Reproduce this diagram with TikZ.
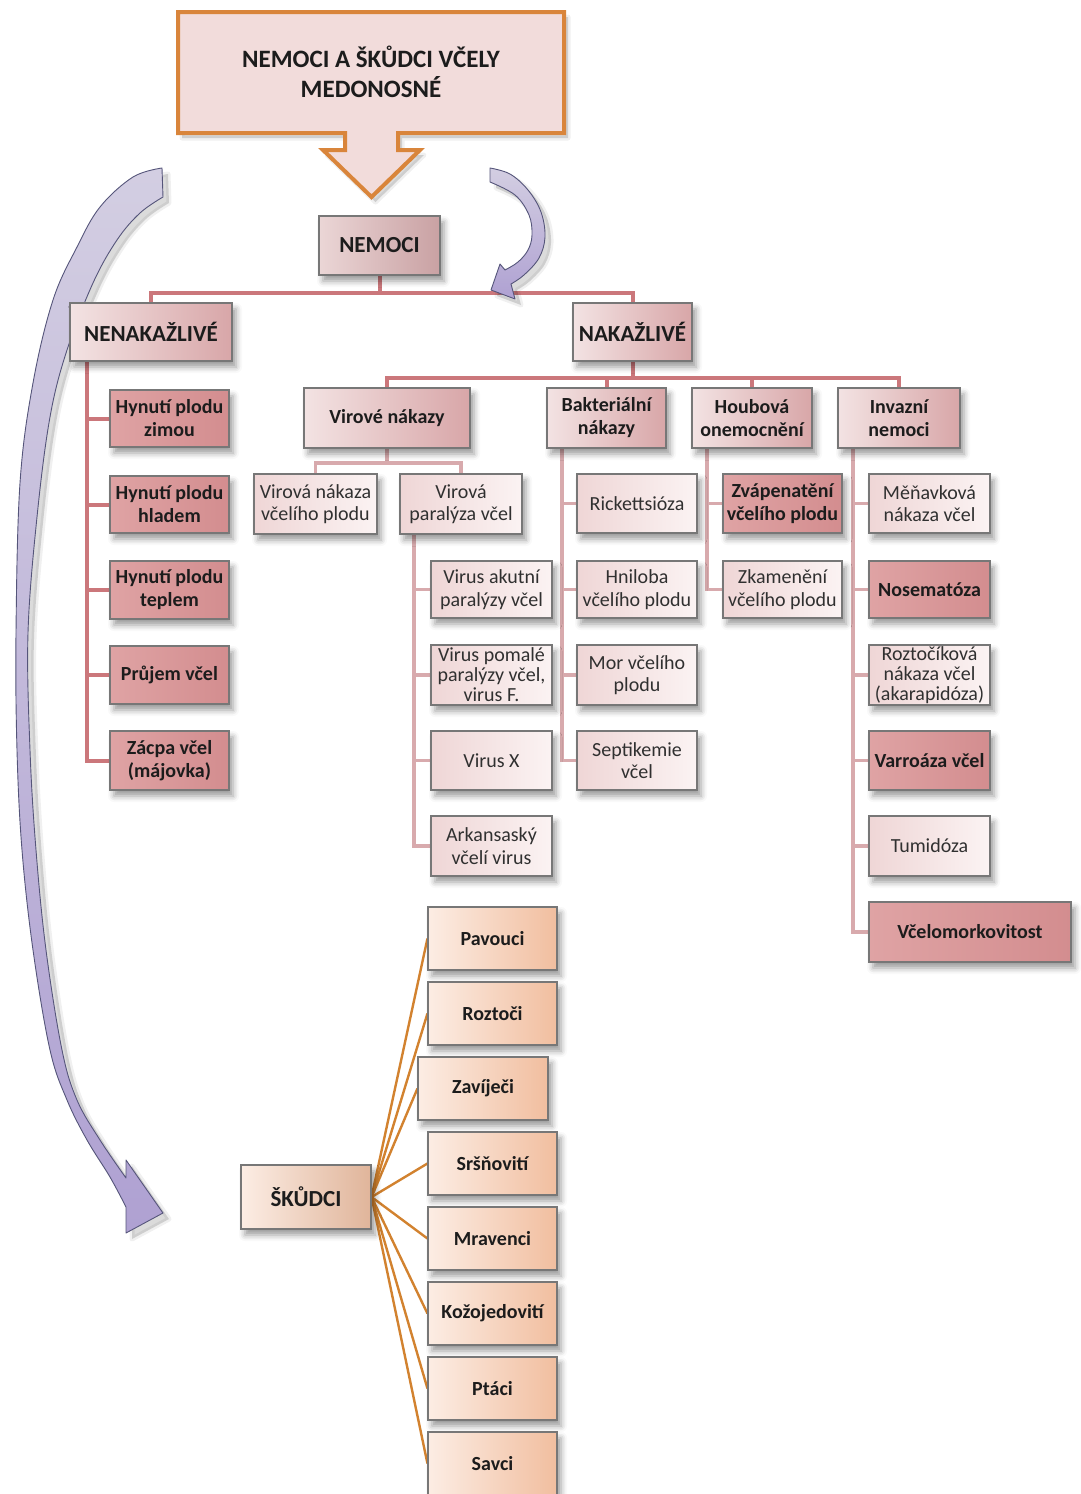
\documentclass[tikz,border=0pt]{standalone}
\usepackage{fontspec}
\setmainfont{Carlito}
\usetikzlibrary{shadows.blur}
\pgfdeclarelayer{back}
\pgfdeclarelayer{bg}
\pgfsetlayers{back,bg,main}
\definecolor{orangeB}{HTML}{D9853B}
\definecolor{titleF}{HTML}{F2DCDB}
\definecolor{grayB}{HTML}{777777}
\definecolor{midL}{HTML}{F3E3E3}
\definecolor{midR}{HTML}{D8A6A8}
\definecolor{nemL}{HTML}{EBD6D6}
\definecolor{nemR}{HTML}{C9A1A3}
\definecolor{liteL}{HTML}{EFD6D6}
\definecolor{liteR}{HTML}{FBF3F3}
\definecolor{darkL}{HTML}{DFA3A4}
\definecolor{darkR}{HTML}{D38D8F}
\definecolor{peachL}{HTML}{FCEDE4}
\definecolor{peachR}{HTML}{F1BE9F}
\definecolor{busC}{HTML}{CB777B}
\definecolor{bus2C}{HTML}{D8AAAD}
\definecolor{orL}{HTML}{D2822F}
\definecolor{purT}{HTML}{D3CEE2}
\definecolor{purB}{HTML}{AFA1D2}
\definecolor{purD}{HTML}{55557A}
\definecolor{txtD}{HTML}{1C1C1C}
\definecolor{txtL}{HTML}{303030}
\newcommand\myfb{\bfseries\fontsize{20}{23}\selectfont}
\newcommand\myfr{\fontsize{20}{22.5}\selectfont}
\newcommand\myfh{\bfseries\fontsize{23}{26}\selectfont}
\newcommand\bx[7]{\node[#6, minimum width={(#4)-(#2)}, minimum height={(#5)-(#3)}] (#1) at ({((#2)+(#4))/2},{((#3)+(#5))/2}) {#7};}
\newcommand\titlepath{(178,12) -- (564,12) -- (564,133) -- (398,133) -- (398,150) -- (420,150)
  -- (371.5,197) -- (323,150) -- (345,150) -- (345,133) -- (178,133) -- cycle}
\newcommand\leftarr{(162,168) -- (163,197)
  -- plot[smooth, tension=0.6] coordinates {(163,197) (140,213) (117,240) (93,283) (67,350) (50,417) (37,517) (28,633) (30,750) (36,850) (46,950) (62,1050) (77,1100) (100,1140) (126,1178)}
  -- (126,1160) -- (163,1213) -- (126,1233) -- (126,1207)
  -- plot[smooth, tension=0.6] coordinates {(126,1207) (110,1177) (87,1140) (67,1100) (50,1050) (33,950) (22,850) (17,750) (16,633) (20,483) (33,383) (53,300) (77,247) (100,207) (133,177) (162,168)}
  -- cycle}
\newcommand\rightarr{(490,168) -- (490,182)
  -- plot[smooth, tension=0.6] coordinates {(490,182) (515,195) (529,215) (532,235) (528,250) (518,262) (505,270)}
  -- (500,264) -- (491,290) -- (515,299) -- (511,284)
  -- plot[smooth, tension=0.6] coordinates {(511,284) (524,275) (539,258) (545,237) (541,212) (528,190) (510,174) (490,168)}
  -- cycle}
\tikzset{
  shadowspec/.style={blur shadow={shadow xshift=4pt, shadow yshift=-6pt, shadow blur radius=6pt, shadow opacity=40}},
  boxbase/.style={draw=grayB, line width=1.1pt, inner sep=1pt, align=center, shadowspec},
  boxhdr/.style={boxbase, left color=midL, right color=midR, text=txtD, font=\myfh},
  boxnem/.style={boxbase, left color=nemL, right color=nemR, text=txtD, font=\myfh},
  boxmid/.style={boxbase, left color=midL, right color=midR, text=txtD, font=\myfb},
  boxlite/.style={boxbase, left color=liteL, right color=liteR, text=txtL, font=\myfr},
  boxdark/.style={boxbase, left color=darkL, right color=darkR, text=txtD, font=\myfb},
  boxpeach/.style={boxbase, left color=peachL, right color=peachR, text=txtD, font=\myfb},
  boxpeachH/.style={boxbase, left color=peachL, right color=peachR!85!gray, text=txtD, font=\myfh},
  linebus/.style={draw=busC, line width=4pt},
  linebus2/.style={draw=bus2C, line width=3.5pt},
  lineor/.style={draw=orL, line width=2.4pt},
  purarrow/.style={draw=purD, line width=0.9pt, top color=purT, bottom color=purB, line join=round},
  softshadow/.style={fill=black, fill opacity=0.14, draw=black, draw opacity=0.06, line width=5pt, line join=round}
}
\begin{document}
\begin{tikzpicture}[x=1pt,y=-1pt]
\useasboundingbox (0,0) rectangle (1080,1494);
\begin{pgfonlayer}{back}
\fill[white] (0,0) rectangle (1080,1494);
\end{pgfonlayer}

% hidden primer for the shadow fading (covered by the title shape)
\node[shadowspec, fill=titleF, minimum width=8pt, minimum height=8pt, inner sep=0pt] (primer) at (371,72) {};

% title callout
\path[softshadow, shift={(4,5)}] \titlepath;
\path[draw=orangeB, line width=4pt, fill=titleF, line join=miter] \titlepath;
\node[align=center, font=\bfseries\fontsize{25}{30}\selectfont, text=txtD] (title) at (371,72) {NEMOCI A ŠKŮDCI VČELY\\MEDONOSNÉ};

% purple curved arrows
\path[softshadow, shift={(6,6)}] \leftarr;
\path[purarrow] \leftarr;
\path[softshadow, shift={(6,6)}] \rightarr;
\path[purarrow] \rightarr;

% boxes
\bx{nemoci}{319}{216}{440}{275}{boxnem}{NEMOCI}
\bx{nenak}{70}{303}{232}{361}{boxhdr}{NENAKAŽLIVÉ}
\bx{nak}{573}{303}{692}{361}{boxhdr}{NAKAŽLIVÉ}

\bx{h1}{110}{390}{229}{447}{boxdark}{Hynutí plodu\\zimou}
\bx{h2}{110}{476}{229}{533}{boxdark}{Hynutí plodu\\hladem}
\bx{h3}{110}{561}{229}{619}{boxdark}{Hynutí plodu\\teplem}
\bx{h4}{110}{646}{229}{704}{boxdark}{Průjem včel}
\bx{h5}{110}{731}{229}{790}{boxdark}{Zácpa včel\\(májovka)}

\bx{vir}{304}{388}{470}{448}{boxmid}{Virové nákazy}
\bx{bak}{547}{388}{666}{448}{boxmid}{Bakteriální\\nákazy}
\bx{hou}{692}{388}{812}{448}{boxmid}{Houbová\\onemocnění}
\bx{inv}{838}{388}{960}{448}{boxmid}{Invazní\\nemoci}

\bx{vnp}{254}{474}{377}{534}{boxlite}{Virová nákaza\\včelího plodu}
\bx{vpar}{400}{474}{522}{534}{boxlite}{Virová\\paralýza včel}
\bx{v1}{431}{561}{552}{618}{boxlite}{Virus akutní\\paralýzy včel}
\bx{v2}{431}{645}{552}{705}{boxlite, font=\fontsize{20}{20}\selectfont}{Virus pomalé\\paralýzy včel,\\virus F.}
\bx{v3}{431}{731}{552}{790}{boxlite}{Virus X}
\bx{v4}{431}{816}{552}{876}{boxlite}{Arkansaský\\včelí virus}

\bx{b1}{577}{474}{697}{533}{boxlite}{Rickettsióza}
\bx{b2}{577}{561}{697}{618}{boxlite}{Hniloba\\včelího plodu}
\bx{b3}{577}{645}{697}{705}{boxlite}{Mor včelího\\plodu}
\bx{b4}{577}{731}{697}{790}{boxlite}{Septikemie\\včel}

\bx{f1}{723}{474}{842}{533}{boxdark}{Zvápenatění\\včelího plodu}
\bx{f2}{723}{561}{842}{618}{boxlite}{Zkamenění\\včelího plodu}

\bx{i1}{869}{474}{990}{533}{boxlite}{Měňavková\\nákaza včel}
\bx{i2}{869}{561}{990}{618}{boxdark}{Nosematóza}
\bx{i3}{869}{645}{990}{705}{boxlite, font=\fontsize{20}{20}\selectfont}{Roztočíková\\nákaza včel\\(akarapidóza)}
\bx{i4}{869}{731}{990}{790}{boxdark}{Varroáza včel}
\bx{i5}{869}{816}{990}{876}{boxlite}{Tumidóza}
\bx{i6}{869}{902}{1071}{962}{boxdark}{Včelomorkovitost}

\bx{skudci}{241}{1165}{371}{1229}{boxpeachH}{ŠKŮDCI}
\bx{p1}{428}{907}{557}{970}{boxpeach}{Pavouci}
\bx{p2}{428}{982}{557}{1045}{boxpeach}{Roztoči}
\bx{p3}{418}{1057}{548}{1120}{boxpeach}{Zavíječi}
\bx{p4}{428}{1132}{557}{1195}{boxpeach}{Sršňovití}
\bx{p5}{428}{1207}{557}{1270}{boxpeach}{Mravenci}
\bx{p6}{428}{1282}{557}{1345}{boxpeach}{Kožojedovití}
\bx{p7}{428}{1357}{557}{1420}{boxpeach}{Ptáci}
\bx{p8}{428}{1432}{557}{1495}{boxpeach}{Savci}

% spine tops
\coordinate (nnS) at (87,361);
\coordinate (vpS) at (414,534);
\coordinate (bkS) at (562,448);
\coordinate (hoS) at (707,448);
\coordinate (inS) at (853,448);
\coordinate (busA) at (0,293);
\coordinate (busB) at (0,378);
\coordinate (busC) at (0,463);

\begin{pgfonlayer}{bg}
\draw[linebus] (nemoci.south) -- (nemoci.south |- busA);
\draw[linebus] (nenak.north) -- (nenak.north |- busA) -- (nak.north |- busA) -- (nak.north);
\draw[linebus] (nak.south) -- (nak.south |- busB);
\draw[linebus] (vir.north) -- (vir.north |- busB) -- (inv.north |- busB) -- (inv.north);
\draw[linebus] (bak.north) -- (bak.north |- busB);
\draw[linebus] (hou.north) -- (hou.north |- busB);
\draw[linebus2] (vir.south) -- (vir.south |- busC);
\draw[linebus2] (vnp.north) -- (vnp.north |- busC) -- (vpar.north |- busC) -- (vpar.north);
\foreach \c in {h1,h2,h3,h4,h5} \draw[linebus] (nnS) |- (\c.west);
\foreach \c in {v1,v2,v3,v4} \draw[linebus2] (vpS) |- (\c.west);
\foreach \c in {b1,b2,b3,b4} \draw[linebus2] (bkS) |- (\c.west);
\foreach \c in {f1,f2} \draw[linebus2] (hoS) |- (\c.west);
\foreach \c in {i1,i2,i3,i4,i5,i6} \draw[linebus2] (inS) |- (\c.west);
\foreach \c in {p1,p2,p3,p4,p5,p6,p7,p8} \draw[lineor] (skudci.east) -- (\c.west);
\end{pgfonlayer}
\end{tikzpicture}
\end{document}
